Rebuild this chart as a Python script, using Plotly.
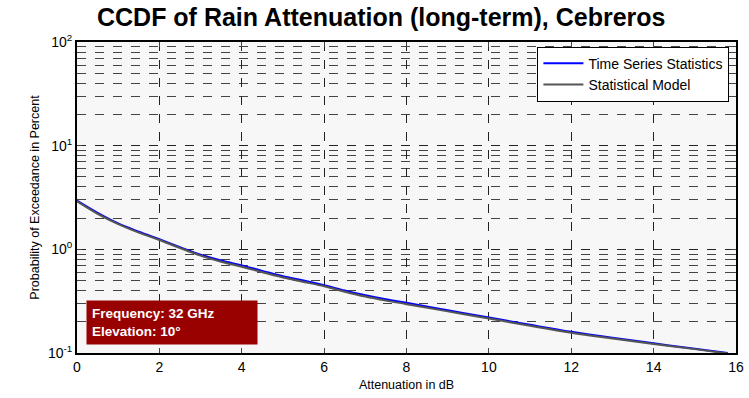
import plotly.graph_objects as go

# Data
atten_db = [0, 0.5, 1, 1.5, 2, 2.5, 3, 3.5, 4, 4.5, 5, 5.5, 6, 6.5, 7, 7.5, 8, 9, 10, 11, 12, 13, 14, 15, 15.8]
ts_stats = [2.95, 2.25, 1.78, 1.48, 1.25, 1.05, 0.89, 0.78, 0.70, 0.62, 0.55, 0.50, 0.45, 0.40, 0.36, 0.33, 0.305, 0.258, 0.22, 0.187, 0.160, 0.140, 0.124, 0.110, 0.100]
model = [2.90, 2.20, 1.75, 1.45, 1.23, 1.03, 0.87, 0.76, 0.68, 0.60, 0.535, 0.485, 0.44, 0.39, 0.35, 0.32, 0.296, 0.252, 0.215, 0.183, 0.157, 0.138, 0.122, 0.109, 0.099]

x_ticks = [0, 2, 4, 6, 8, 10, 12, 14, 16]
y_ticks = [0.1, 1, 10, 100]
y_ticktext = ["10<sup>-1</sup>", "10<sup>0</sup>", "10<sup>1</sup>", "10<sup>2</sup>"]
y_minor = [m * d for d in [0.1, 1, 10] for m in range(2, 10)]

font_family = "Arial, Liberation Sans, sans-serif"

fig = go.Figure()
fig.add_trace(go.Scatter(x=atten_db, y=ts_stats, mode="lines", name="Time Series Statistics",
                         line=dict(color="#0000ff", width=2, shape="spline")))
fig.add_trace(go.Scatter(x=atten_db, y=model, mode="lines", name="Statistical Model",
                         line=dict(color="#555555", width=2, shape="spline")))

fig.update_layout(
    width=749, height=398,
    margin=dict(l=77, r=13, t=42, b=45, autoexpand=False),
    paper_bgcolor="white",
    plot_bgcolor="#f7f7f7",
    font=dict(family=font_family, size=12, color="black"),
    title=dict(text="<b>CCDF of Rain Attenuation (long-term), Cebreros</b>",
               x=0.509, xanchor="center", y=0.978, yanchor="top",
               font=dict(size=25, color="black"), automargin=False),
    showlegend=True,
    legend=dict(x=0.99, xanchor="right", y=0.985, yanchor="top",
                bgcolor="white", bordercolor="black", borderwidth=1,
                font=dict(size=14), tracegroupgap=0, itemwidth=40),
    xaxis=dict(range=[0, 16], tickvals=x_ticks, ticks="inside", ticklen=5,
               showline=True, linecolor="black", linewidth=2, mirror="ticks",
               showgrid=True, gridcolor="#222222", griddash="dash", gridwidth=1,
               zeroline=False, tickfont=dict(size=14), automargin=False,
               title=dict(text="Attenuation in dB", font=dict(size=12.5), standoff=6)),
    yaxis=dict(type="log", range=[-1, 2], tickvals=y_ticks, ticktext=y_ticktext,
               ticks="inside", ticklen=5, automargin=False,
               showline=True, linecolor="black", linewidth=2, mirror="ticks",
               showgrid=True, gridcolor="#222222", griddash="dash", gridwidth=1,
               zeroline=False, tickfont=dict(size=14),
               minor=dict(tickvals=y_minor, showgrid=True, gridcolor="#444444",
                          griddash="dash", gridwidth=1, ticks="inside", ticklen=3),
               title=dict(text="Probability of Exceedance in Percent", font=dict(size=12.5), standoff=6)),
)

fig.add_annotation(
    xref="paper", yref="paper", x=0.013, y=0.025, xanchor="left", yanchor="bottom",
    text="<b>Frequency: 32 GHz<br>Elevation: 10°</b>",
    showarrow=False, align="left",
    font=dict(size=13.5, color="white", family=font_family),
    bgcolor="#990000", borderpad=5, width=160,
)

fig.write_html("out.html")
